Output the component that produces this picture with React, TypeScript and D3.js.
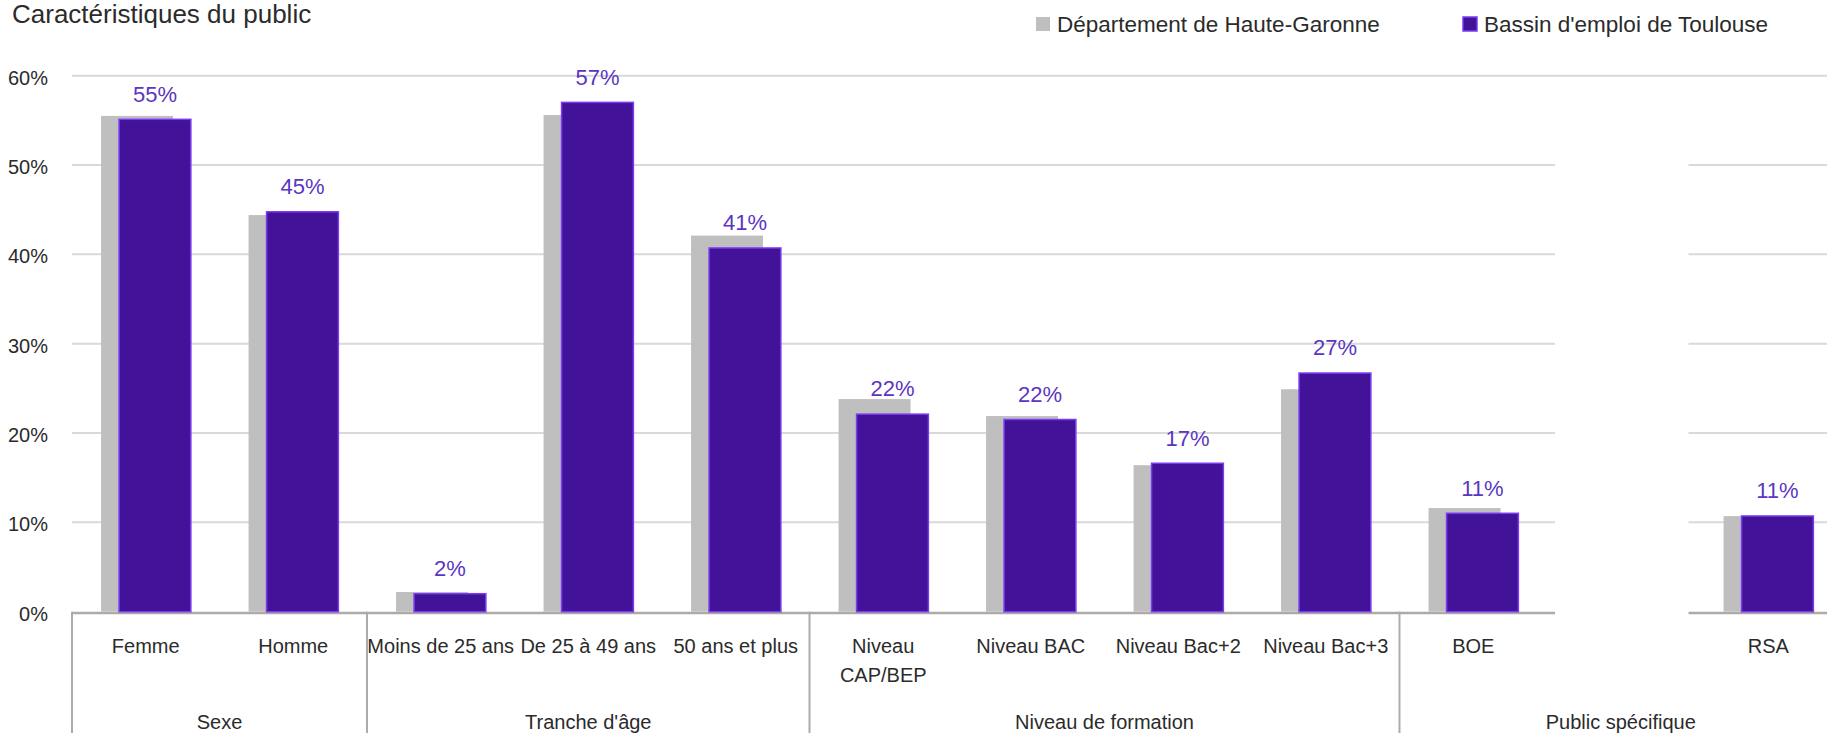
import { useEffect, useRef } from "react";
import * as d3 from "d3";

const CATEGORIES = [
  ["Femme"],
  ["Homme"],
  ["Moins de 25 ans"],
  ["De 25 à 49 ans"],
  ["50 ans et plus"],
  ["Niveau", "CAP/BEP"],
  ["Niveau BAC"],
  ["Niveau Bac+2"],
  ["Niveau Bac+3"],
  ["BOE"],
  [""],
  ["RSA"],
];

// Département de Haute-Garonne (gris)
const DEPARTEMENT = [55.5, 44.4, 2.2, 55.6, 42.1, 23.8, 21.9, 16.4, 24.9, 11.6, null, 10.7];
// Bassin d'emploi de Toulouse (violet)
const BASSIN = [55.2, 44.85, 2.1, 57.1, 40.8, 22.2, 21.6, 16.7, 26.8, 11.1, null, 10.8];

const GROUP_LABELS = ["Sexe", "Tranche d'âge", "Niveau de formation", "Public spécifique"];
const GROUP_SIZES = [2, 3, 4, 3];

const Y_TICKS = [0, 10, 20, 30, 40, 50, 60];

const W = 1827;
const H = 733;
const FONT = "'Liberation Sans', Arial, sans-serif";
const TEXT = "#2b2b2b";
const GREY = "#bfbfbf";
const PURPLE = "#421399";
const PURPLE_EDGE = "#7a3cf0";
const LABEL = "#5a36c2";

export default function App() {
  const ref = useRef<SVGSVGElement>(null);

  useEffect(() => {
    const svg = d3.select(ref.current);
    svg.selectAll("*").remove();

    const x = d3
      .scaleBand<number>()
      .domain(d3.range(CATEGORIES.length))
      .range([72, 72 + 147.5 * CATEGORIES.length])
      .padding(0);
    const bw = x.bandwidth();
    const y = d3.scaleLinear().domain([0, 60]).range([611.7, 75.7]);

    // title
    svg
      .append("text")
      .attr("x", 12)
      .attr("y", 23)
      .attr("font-size", 26)
      .attr("fill", TEXT)
      .text("Caractéristiques du public");

    // legend
    const legend = [
      { label: "Département de Haute-Garonne", fill: GREY, stroke: "none", x: 1036 },
      { label: "Bassin d'emploi de Toulouse", fill: PURPLE, stroke: PURPLE_EDGE, x: 1463 },
    ];
    const lg = svg.append("g").selectAll("g").data(legend).join("g");
    lg.append("rect")
      .attr("x", (d) => d.x)
      .attr("y", 17)
      .attr("width", 14)
      .attr("height", 14)
      .attr("fill", (d) => d.fill)
      .attr("stroke", (d) => d.stroke)
      .attr("stroke-width", 1.5);
    lg.append("text")
      .attr("x", (d) => d.x + 21)
      .attr("y", 32)
      .attr("font-size", 22.5)
      .attr("fill", TEXT)
      .text((d) => d.label);

    // grid
    const right = W;
    svg
      .append("g")
      .selectAll("line")
      .data(Y_TICKS.filter((t) => t > 0))
      .join("line")
      .attr("x1", 72)
      .attr("x2", right)
      .attr("y1", (d) => y(d))
      .attr("y2", (d) => y(d))
      .attr("stroke", "#d9d9d9")
      .attr("stroke-width", 2);

    // y tick labels
    svg
      .append("g")
      .selectAll("text")
      .data(Y_TICKS)
      .join("text")
      .attr("x", 48)
      .attr("y", (d) => y(d) + 9)
      .attr("text-anchor", "end")
      .attr("font-size", 20)
      .attr("fill", TEXT)
      .text((d) => `${d}%`);

    // axis line
    svg
      .append("line")
      .attr("x1", 72)
      .attr("x2", right)
      .attr("y1", y(0) + 1.2)
      .attr("y2", y(0) + 1.2)
      .attr("stroke", "#aeaaaa")
      .attr("stroke-width", 2.5);

    // blank slot in "Public spécifique" hides grid and axis
    svg
      .append("rect")
      .attr("x", x(10)! + 8)
      .attr("y", y(58))
      .attr("width", bw - 14)
      .attr("height", y(0) - y(58) + 5)
      .attr("fill", "#ffffff");

    const idx = d3.range(CATEGORIES.length).filter((i) => BASSIN[i] != null);

    // grey bars
    svg
      .append("g")
      .selectAll("rect")
      .data(idx)
      .join("rect")
      .attr("x", (i) => x(i)! + bw * 0.197)
      .attr("width", bw * 0.488)
      .attr("y", (i) => y(DEPARTEMENT[i]!))
      .attr("height", (i) => y(0) - y(DEPARTEMENT[i]!))
      .attr("fill", GREY);

    // purple bars
    svg
      .append("g")
      .selectAll("rect")
      .data(idx)
      .join("rect")
      .attr("x", (i) => x(i)! + bw * 0.314 + 0.75)
      .attr("width", bw * 0.497 - 1.5)
      .attr("y", (i) => y(BASSIN[i]!) + 0.75)
      .attr("height", (i) => y(0) - y(BASSIN[i]!) - 0.75)
      .attr("fill", PURPLE)
      .attr("stroke", PURPLE_EDGE)
      .attr("stroke-width", 1.5);

    // value labels
    svg
      .append("g")
      .selectAll("text")
      .data(idx)
      .join("text")
      .attr("x", (i) => x(i)! + bw * 0.314 + (bw * 0.497) / 2)
      .attr("y", (i) => y(BASSIN[i]!) - 17)
      .attr("text-anchor", "middle")
      .attr("font-size", 22)
      .attr("fill", LABEL)
      .text((i) => `${Math.round(BASSIN[i]!)}%`);

    // category labels
    const cat = svg
      .append("g")
      .selectAll("text")
      .data(CATEGORIES)
      .join("text")
      .attr("text-anchor", "middle")
      .attr("font-size", 20)
      .attr("fill", TEXT);
    cat
      .selectAll("tspan")
      .data((d, i) => d.map((line, k) => ({ line, k, i })))
      .join("tspan")
      .attr("x", (d) => x(d.i)! + bw / 2)
      .attr("y", (d) => 653 + d.k * 29)
      .text((d) => d.line);

    // group separators + labels
    const bounds = [0, ...d3.cumsum(GROUP_SIZES)];
    svg
      .append("g")
      .selectAll("line")
      .data(bounds)
      .join("line")
      .attr("x1", (b) => 72 + b * bw)
      .attr("x2", (b) => 72 + b * bw)
      .attr("y1", y(0))
      .attr("y2", H)
      .attr("stroke", "#aeaaaa")
      .attr("stroke-width", 2);
    svg
      .append("g")
      .selectAll("text")
      .data(GROUP_LABELS)
      .join("text")
      .attr("x", (d, g) => 72 + ((bounds[g] + bounds[g + 1]) / 2) * bw)
      .attr("y", 729)
      .attr("text-anchor", "middle")
      .attr("font-size", 20)
      .attr("fill", TEXT)
      .text((d) => d);
  }, []);

  return (
    <svg
      ref={ref}
      width={W}
      height={H}
      style={{ position: "absolute", left: 0, top: 0, fontFamily: FONT, background: "#fff" }}
    />
  );
}
